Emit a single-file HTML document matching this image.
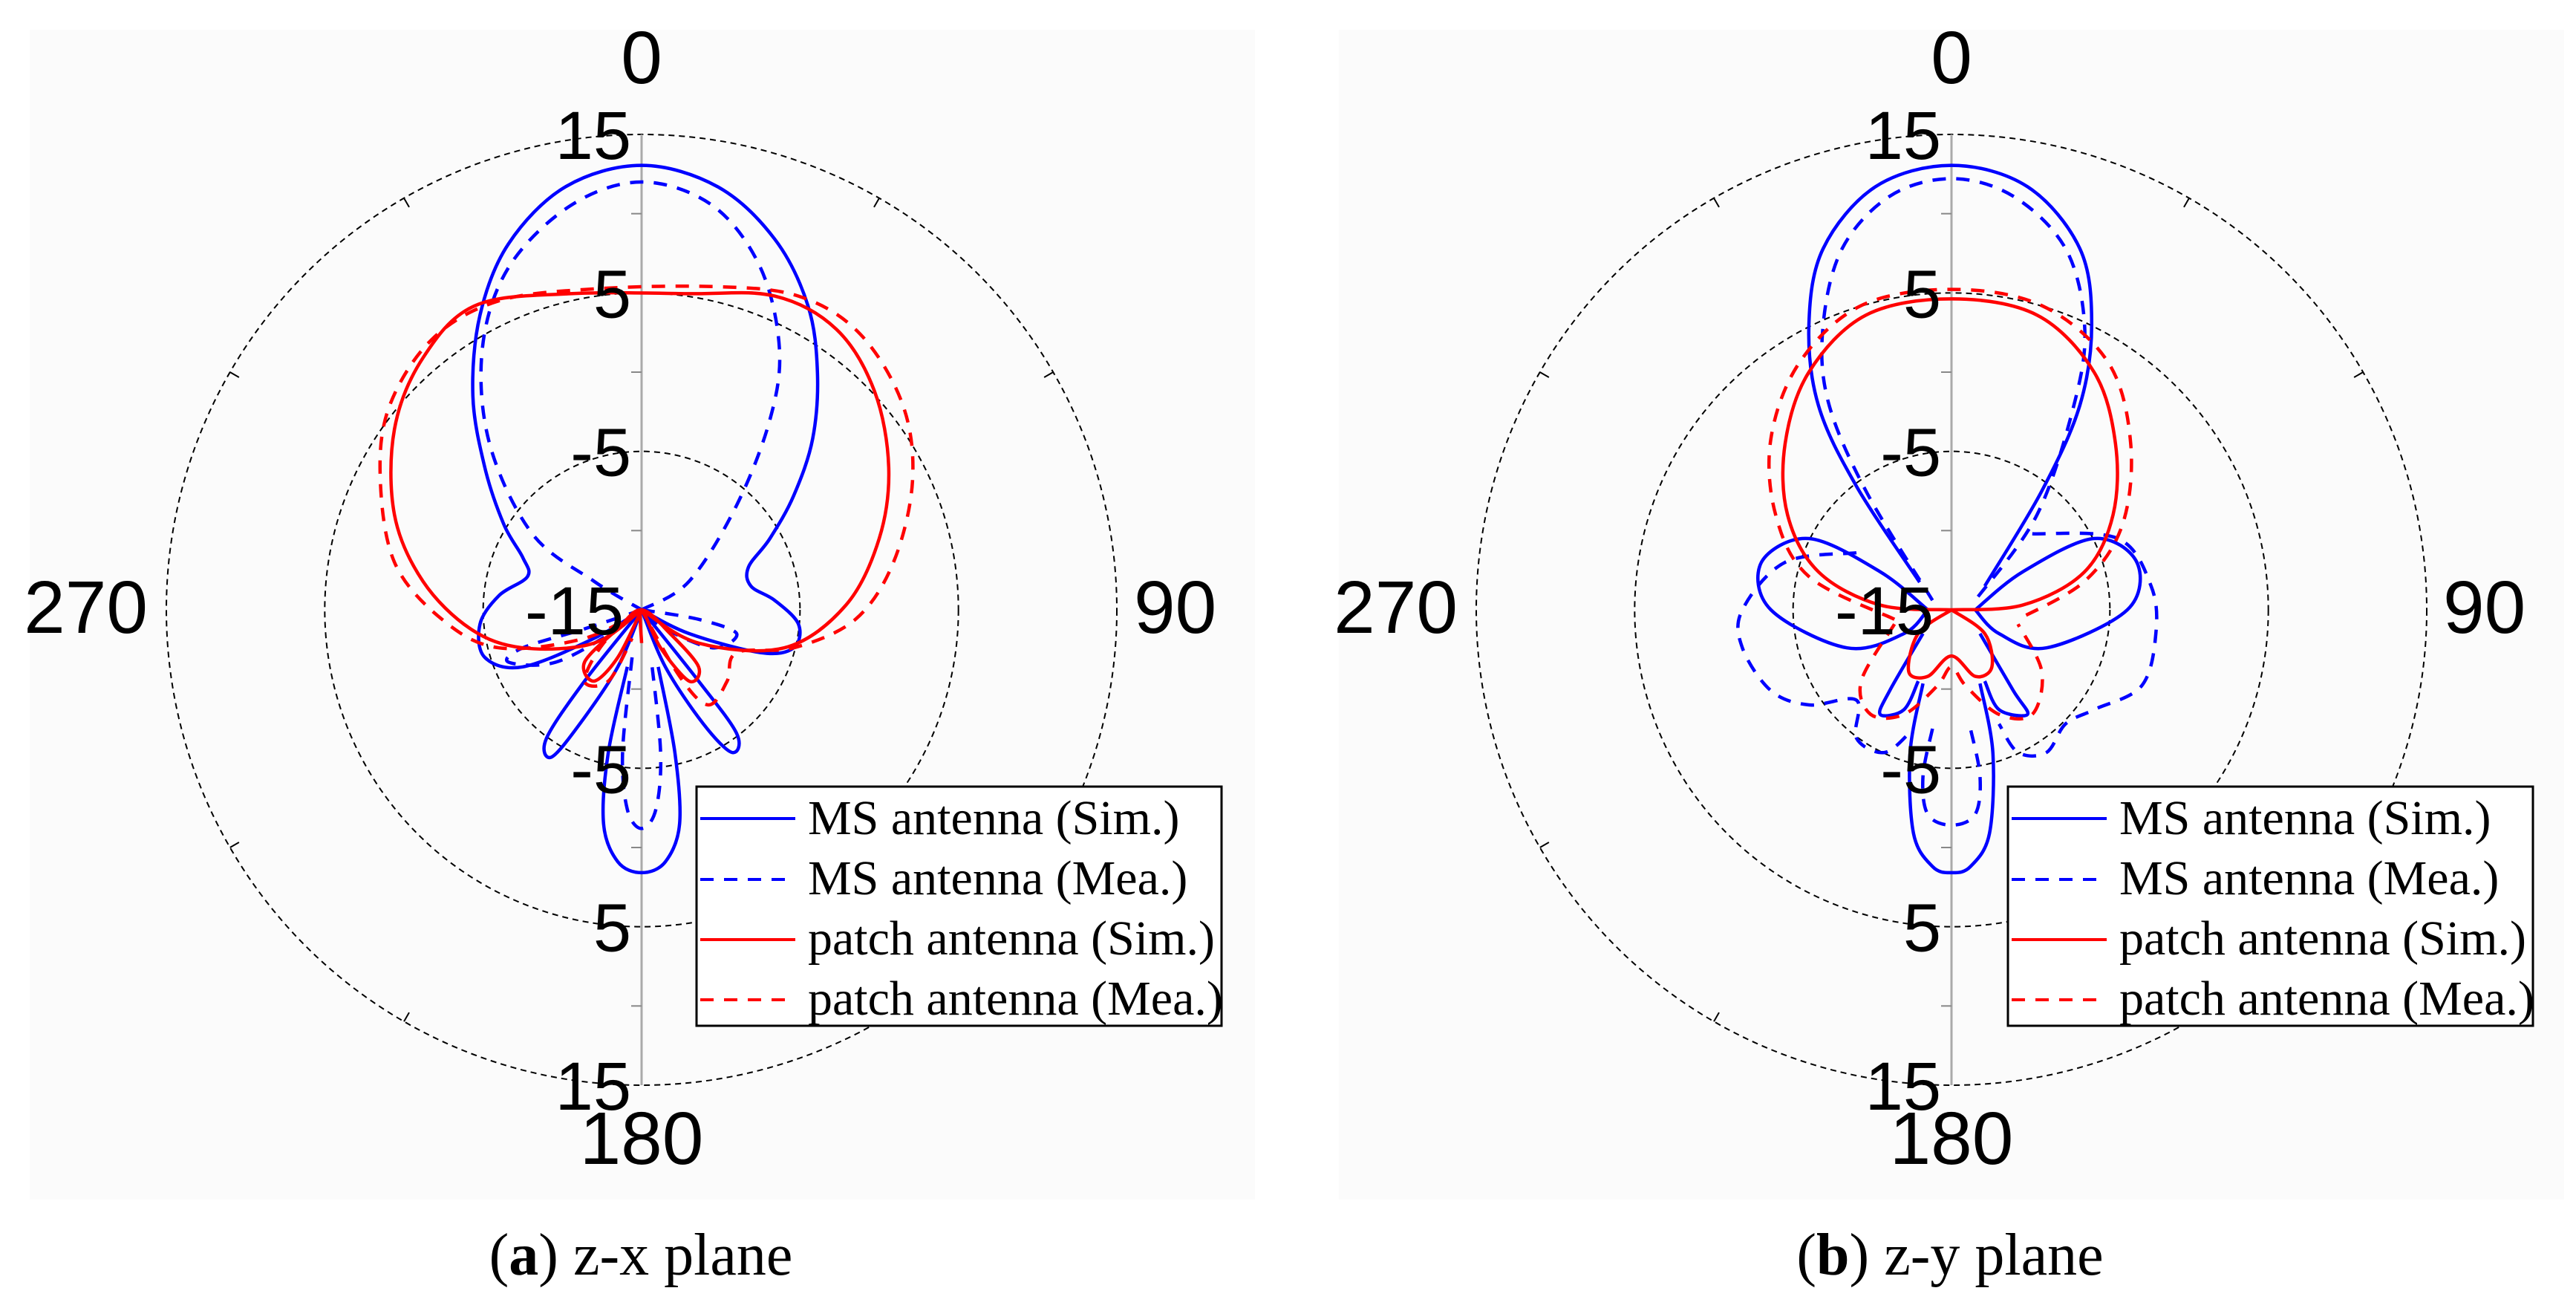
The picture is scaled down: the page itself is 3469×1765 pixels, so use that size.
<!DOCTYPE html>
<html><head><meta charset="utf-8"><style>
html,body{margin:0;padding:0;background:#fff;}
body{width:3469px;height:1765px;overflow:hidden;position:relative;}
svg{position:absolute;left:0;top:0;}
</style></head><body>
<svg id="s" width="3469" height="1765" viewBox="0 0 3469 1765" xmlns="http://www.w3.org/2000/svg">
<rect x="40" y="40" width="1650" height="1575" fill="#fbfbfb"/>
<rect x="1803" y="40" width="1650" height="1575" fill="#fbfbfb"/>
<g id="g"></g>
<g font-family="Liberation Sans, sans-serif" fill="#000">
<text x="864" y="112" font-size="100" text-anchor="middle">0</text>
<text x="864" y="1567" font-size="100" text-anchor="middle">180</text>
<text x="199" y="852" font-size="100" text-anchor="end">270</text>
<text x="1527" y="852" font-size="100">90</text>
<text x="2628" y="112" font-size="100" text-anchor="middle">0</text>
<text x="2628" y="1567" font-size="100" text-anchor="middle">180</text>
<text x="1963" y="852" font-size="100" text-anchor="end">270</text>
<text x="3290" y="852" font-size="100">90</text>
</g>
<g id="lbl" font-family="Liberation Sans, sans-serif" font-size="92" text-anchor="end" fill="#000"></g>
<g font-family="Liberation Serif, serif" font-size="66" fill="#000">
<rect x="938" y="1059" width="707" height="322" fill="#fff" stroke="#000" stroke-width="3"/>
<line x1="943" y1="1102" x2="1071" y2="1102" stroke="#0000ff" stroke-width="4"/>
<line x1="943" y1="1184" x2="1071" y2="1184" stroke="#0000ff" stroke-width="4" stroke-dasharray="18,14"/>
<line x1="943" y1="1265" x2="1071" y2="1265" stroke="#ff0000" stroke-width="4"/>
<line x1="943" y1="1346" x2="1071" y2="1346" stroke="#ff0000" stroke-width="4" stroke-dasharray="18,14"/>
<text x="1088" y="1123">MS antenna (Sim.)</text>
<text x="1088" y="1204">MS antenna (Mea.)</text>
<text x="1088" y="1285">patch antenna (Sim.)</text>
<text x="1088" y="1366">patch antenna (Mea.)</text>
<rect x="2704" y="1059" width="707" height="322" fill="#fff" stroke="#000" stroke-width="3"/>
<line x1="2709" y1="1102" x2="2837" y2="1102" stroke="#0000ff" stroke-width="4"/>
<line x1="2709" y1="1184" x2="2837" y2="1184" stroke="#0000ff" stroke-width="4" stroke-dasharray="18,14"/>
<line x1="2709" y1="1265" x2="2837" y2="1265" stroke="#ff0000" stroke-width="4"/>
<line x1="2709" y1="1346" x2="2837" y2="1346" stroke="#ff0000" stroke-width="4" stroke-dasharray="18,14"/>
<text x="2854" y="1123">MS antenna (Sim.)</text>
<text x="2854" y="1204">MS antenna (Mea.)</text>
<text x="2854" y="1285">patch antenna (Sim.)</text>
<text x="2854" y="1366">patch antenna (Mea.)</text>
</g>
<g font-family="Liberation Serif, serif" font-size="80" fill="#000" text-anchor="middle">
<text x="863" y="1716">(<tspan font-weight="bold">a</tspan>) z-x plane</text>
<text x="2626" y="1716">(<tspan font-weight="bold">b</tspan>) z-y plane</text>
</g>
</svg>
<script>
(function(){
var NS="http://www.w3.org/2000/svg",g=document.getElementById("g"),lbl=document.getElementById("lbl");
var R=640,CY=821;
function el(t,a,p){var e=document.createElementNS(NS,t);for(var k in a)e.setAttribute(k,a[k]);(p||g).appendChild(e);return e;}
function cr(pts,cx,cy,closed){
 var P=pts.map(function(p){return [cx+p[0]*R,cy+p[1]*R];});
 var n=P.length,d="M"+P[0][0].toFixed(1)+","+P[0][1].toFixed(1);
 for(var i=0;i<n-1;i++){
  var p0=P[i>0?i-1:(closed?n-2:0)],p1=P[i],p2=P[i+1],p3=P[i+2<n?i+2:(closed?1:n-1)];
  var c1=[p1[0]+(p2[0]-p0[0])/6,p1[1]+(p2[1]-p0[1])/6],c2=[p2[0]-(p3[0]-p1[0])/6,p2[1]-(p3[1]-p1[1])/6];
  d+="C"+c1[0].toFixed(1)+","+c1[1].toFixed(1)+" "+c2[0].toFixed(1)+","+c2[1].toFixed(1)+" "+p2[0].toFixed(1)+","+p2[1].toFixed(1);
 }
 return d;
}
function curve(pts,cx,col,dash){
 var a={d:cr(pts,cx,CY,false),fill:"none",stroke:col,"stroke-width":4.5,"stroke-linejoin":"round"};
 if(dash)a["stroke-dasharray"]="18,14";
 el("path",a);
}
function grid(cx){
 [1/3,2/3,1].forEach(function(f){el("circle",{cx:cx,cy:CY,r:R*f,fill:"none",stroke:"#000","stroke-width":2,"stroke-dasharray":"8,6"});});
 el("line",{x1:cx,y1:CY-R,x2:cx,y2:CY+R,stroke:"#aaa","stroke-width":3});
 for(var a=30;a<360;a+=30){if(a%90==0)continue;var t=a*Math.PI/180;
  el("line",{x1:cx+R*Math.sin(t),y1:CY-R*Math.cos(t),x2:cx+(R-14)*Math.sin(t),y2:CY-(R-14)*Math.cos(t),stroke:"#000","stroke-width":2});}
 [-1,-2/3,-1/3,0,1/3,2/3,1].forEach(function(f,i){
  var txt=["15","5","-5","-15","-5","5","15"][i];
  var y=CY+f*R;
  var t=el("text",{x:cx-(i==3?24:14),y:y+33},lbl);t.textContent=txt;
 });
 [-5/6,-1/2,-1/6,1/6,1/2,5/6].forEach(function(f){el("line",{x1:cx-14,y1:CY+f*R,x2:cx,y2:CY+f*R,stroke:"#888","stroke-width":2});});
}
var L=864,Rt=2628;
grid(L);grid(Rt);
curve([[0,0],[0.1,0.05],[0.25,0.09],[0.32,0.08],[0.33,0.03],[0.28,-0.02],[0.23,-0.05],[0.225,-0.09],[0.27,-0.15],[0.32,-0.24],[0.36,-0.36],[0.37,-0.5],[0.35,-0.64],[0.28,-0.78],[0.16,-0.89],[0,-0.935],[-0.16,-0.89],[-0.28,-0.77],[-0.34,-0.62],[-0.355,-0.45],[-0.33,-0.3],[-0.29,-0.18],[-0.25,-0.11],[-0.24,-0.07],[-0.3,-0.03],[-0.34,0.03],[-0.33,0.1],[-0.25,0.12],[-0.1,0.06],[0,0]],L,"#0000ff");
curve([[0,0],[-0.12,0.15],[-0.2,0.27],[-0.19,0.31],[-0.13,0.24],[-0.05,0.12],[0,0]],L,"#0000ff");
curve([[0,0],[0.12,0.15],[0.2,0.26],[0.19,0.3],[0.13,0.24],[0.05,0.12],[0,0]],L,"#0000ff");
curve([[-0.03,0.12],[-0.07,0.3],[-0.08,0.45],[-0.05,0.53],[0,0.553],[0.05,0.53],[0.08,0.45],[0.07,0.3],[0.035,0.12]],L,"#0000ff");
curve([[0,0],[0.1,-0.06],[0.2,-0.22],[0.27,-0.4],[0.29,-0.55],[0.25,-0.72],[0.15,-0.85],[0,-0.9],[-0.15,-0.85],[-0.28,-0.72],[-0.335,-0.55],[-0.32,-0.35],[-0.23,-0.16],[-0.1,-0.06],[0,0]],L,"#0000ff",1);
curve([[0,0],[-0.12,0.04],[-0.25,0.08],[-0.28,0.11],[-0.18,0.11],[-0.05,0.04],[0,0]],L,"#0000ff",1);
curve([[0,0],[0.12,0.02],[0.2,0.05],[0.15,0.08],[0.05,0.04],[0,0]],L,"#0000ff",1);
curve([[-0.02,0.1],[-0.04,0.3],[-0.03,0.42],[0,0.46],[0.03,0.42],[0.04,0.3],[0.02,0.1]],L,"#0000ff",1);
curve([[0,0],[-0.1,0.07],[-0.25,0.08],[-0.36,0.04],[-0.46,-0.06],[-0.52,-0.2],[-0.52,-0.38],[-0.46,-0.53],[-0.35,-0.64],[-0.15,-0.665],[0.1,-0.665],[0.28,-0.66],[0.41,-0.59],[0.49,-0.46],[0.52,-0.3],[0.5,-0.15],[0.43,-0.01],[0.3,0.08],[0.12,0.07],[0,0]],L,"#ff0000");
curve([[0,0],[-0.05,0.1],[-0.1,0.15],[-0.12,0.11],[-0.05,0.04],[0,0],[0.06,0.05],[0.12,0.12],[0.1,0.15],[0.04,0.08],[0,0],[0,0.07]],L,"#ff0000");
curve([[0,0],[-0.12,0.06],[-0.3,0.08],[-0.42,0.02],[-0.52,-0.1],[-0.55,-0.28],[-0.53,-0.43],[-0.44,-0.57],[-0.3,-0.65],[-0.1,-0.675],[0.15,-0.68],[0.33,-0.66],[0.46,-0.58],[0.55,-0.43],[0.57,-0.27],[0.53,-0.1],[0.45,0.02],[0.32,0.08],[0.2,0.09],[0.18,0.15],[0.14,0.2],[0.08,0.14],[0,0]],L,"#ff0000",1);
curve([[0,0],[-0.08,0.07],[-0.12,0.15],[-0.07,0.15],[-0.02,0.06]],L,"#ff0000",1);
curve([[-0.067,-0.058],[-0.2,-0.26],[-0.28,-0.43],[-0.3,-0.6],[-0.27,-0.76],[-0.16,-0.89],[0,-0.935],[0.16,-0.89],[0.27,-0.76],[0.295,-0.6],[0.27,-0.43],[0.19,-0.25],[0.07,-0.05]],Rt,"#0000ff");
curve([[-0.05,0.0],[-0.15,-0.08],[-0.3,-0.15],[-0.4,-0.1],[-0.38,0.0],[-0.22,0.08],[-0.1,0.05],[-0.05,0.0]],Rt,"#0000ff");
curve([[0.05,0.0],[0.15,-0.08],[0.3,-0.15],[0.39,-0.1],[0.37,0.0],[0.2,0.08],[0.1,0.05],[0.05,0.0]],Rt,"#0000ff");
curve([[-0.06,0.05],[-0.13,0.17],[-0.15,0.22],[-0.1,0.21],[-0.07,0.15]],Rt,"#0000ff");
curve([[0.06,0.05],[0.13,0.17],[0.16,0.22],[0.1,0.21],[0.07,0.15]],Rt,"#0000ff");
curve([[-0.06,0.155],[-0.087,0.3],[-0.08,0.47],[-0.04,0.54],[0,0.553],[0.04,0.54],[0.08,0.47],[0.087,0.3],[0.06,0.155]],Rt,"#0000ff");
curve([[-0.04,-0.02],[-0.18,-0.25],[-0.26,-0.44],[-0.27,-0.6],[-0.23,-0.76],[-0.13,-0.87],[0,-0.907],[0.13,-0.87],[0.24,-0.76],[0.28,-0.6],[0.26,-0.44],[0.18,-0.2],[0.05,-0.02]],Rt,"#0000ff",1);
curve([[-0.2,-0.12],[-0.35,-0.1],[-0.44,0.0],[-0.44,0.08],[-0.38,0.17],[-0.3,0.2],[-0.2,0.19],[-0.2,0.27],[-0.14,0.3],[-0.08,0.25]],Rt,"#0000ff",1);
curve([[0.17,-0.16],[0.35,-0.15],[0.42,-0.05],[0.43,0.05],[0.4,0.16],[0.3,0.21],[0.24,0.24],[0.2,0.3],[0.14,0.3],[0.1,0.24]],Rt,"#0000ff",1);
curve([[-0.04,0.25],[-0.06,0.35],[-0.05,0.43],[0,0.453],[0.05,0.43],[0.06,0.35],[0.04,0.25]],Rt,"#0000ff",1);
curve([[0,0],[-0.15,-0.01],[-0.28,-0.08],[-0.345,-0.2],[-0.35,-0.35],[-0.3,-0.5],[-0.18,-0.62],[0,-0.654],[0.18,-0.62],[0.3,-0.5],[0.345,-0.35],[0.34,-0.2],[0.28,-0.08],[0.15,-0.01],[0,0]],Rt,"#ff0000");
curve([[0,0],[-0.07,0.05],[-0.09,0.13],[-0.05,0.14],[0,0.097],[0.05,0.14],[0.085,0.12],[0.07,0.05],[0,0]],Rt,"#ff0000");
curve([[-0.12,0.02],[-0.3,-0.07],[-0.37,-0.2],[-0.38,-0.36],[-0.32,-0.52],[-0.19,-0.64],[0,-0.674],[0.19,-0.64],[0.33,-0.52],[0.377,-0.35],[0.36,-0.18],[0.28,-0.06],[0.14,0.02]],Rt,"#ff0000",1);
curve([[-0.12,0.03],[-0.19,0.15],[-0.17,0.22],[-0.1,0.22],[-0.03,0.16],[0,0.12],[0.03,0.16],[0.1,0.22],[0.17,0.22],[0.19,0.13],[0.14,0.03]],Rt,"#ff0000",1);
})();
</script>
</body></html>
